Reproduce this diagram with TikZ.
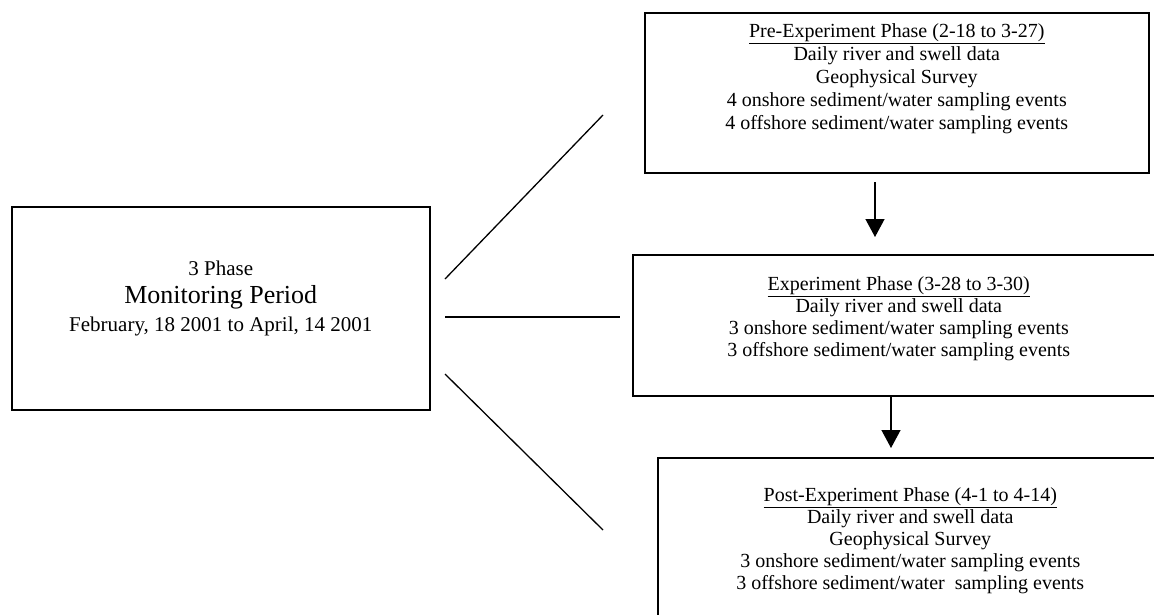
\documentclass[tikz,border=0pt]{standalone}
\usepackage{fontspec}
\setmainfont{Liberation Serif}
\usetikzlibrary{arrows.meta, positioning}

\begin{document}
\begin{tikzpicture}[
        x=1pt, y=-1pt,
        % styles for boxes, text and connectors
        box/.style={
            rectangle,
            draw,
            line width=1.6pt,
            anchor=north west,
            inner sep=0pt
        },
        txt/.style={
            align=center,
            inner sep=0pt,
            font=\fontsize{20}{22}\selectfont
        },
        link/.style={
            line width=1.3pt
        },
        arrow/.style={
            -{Triangle[length=18pt, width=19pt]},
            line width=1.3pt
        }
    ]

    \clip (0,0) rectangle (1154,614);

    % --- 1. BOXES ---
    \node[box, minimum width=418pt, minimum height=203pt] (period) at (11,206) {};
    \node[box, minimum width=504pt, minimum height=160pt] (pre) at (644,12) {};
    \node[box, minimum width=532pt, minimum height=141pt] (exper) at (632,254) {};
    \node[box, minimum width=505pt, minimum height=200pt] (post) at (657,457) {};

    % --- 2. TEXTS ---
    \node[txt, font=\fontsize{21}{28}\selectfont] (periodText) at ([yshift=9.5pt]period.center)
        {3 Phase\\{\fontsize{26}{28}\selectfont Monitoring Period}\\February, 18 2001 to April, 14 2001};

    \node[txt, font=\fontsize{20}{23}\selectfont, below=11pt of pre.north] (preText)
        {\underline{Pre-Experiment Phase (2-18 to 3-27)}\\Daily river and swell data\\Geophysical Survey\\4 onshore sediment/water sampling events\\4 offshore sediment/water sampling events};

    \node[txt, below=22pt of exper.north] (experText)
        {\underline{Experiment Phase (3-28 to 3-30)}\\Daily river and swell data\\3 onshore sediment/water sampling events\\3 offshore sediment/water sampling events};

    \node[txt, below=30pt of post.north] (postText)
        {\underline{Post-Experiment Phase (4-1 to 4-14)}\\Daily river and swell data\\Geophysical Survey\\3 onshore sediment/water sampling events\\3 offshore sediment/water~ sampling events};

    % --- 3. CONNECTORS ---
    \coordinate (upFrom) at (445,279);
    \coordinate (upTo) at (603,115);
    \coordinate (midFrom) at (445,317);
    \coordinate (midTo) at (620,317);
    \coordinate (lowFrom) at (445,374);
    \coordinate (lowTo) at (603,530);
    \coordinate (arrowOneFrom) at (875,182);
    \coordinate (arrowOneTo) at (875,237);
    \coordinate (arrowTwoTo) at (891,448);

    \draw[link] (upFrom) -- (upTo);
    \draw[link] (midFrom) -- (midTo);
    \draw[link] (lowFrom) -- (lowTo);

    \draw[arrow] (arrowOneFrom) -- (arrowOneTo);
    \draw[arrow] (exper.south -| arrowTwoTo) -- (arrowTwoTo);

\end{tikzpicture}
\end{document}
